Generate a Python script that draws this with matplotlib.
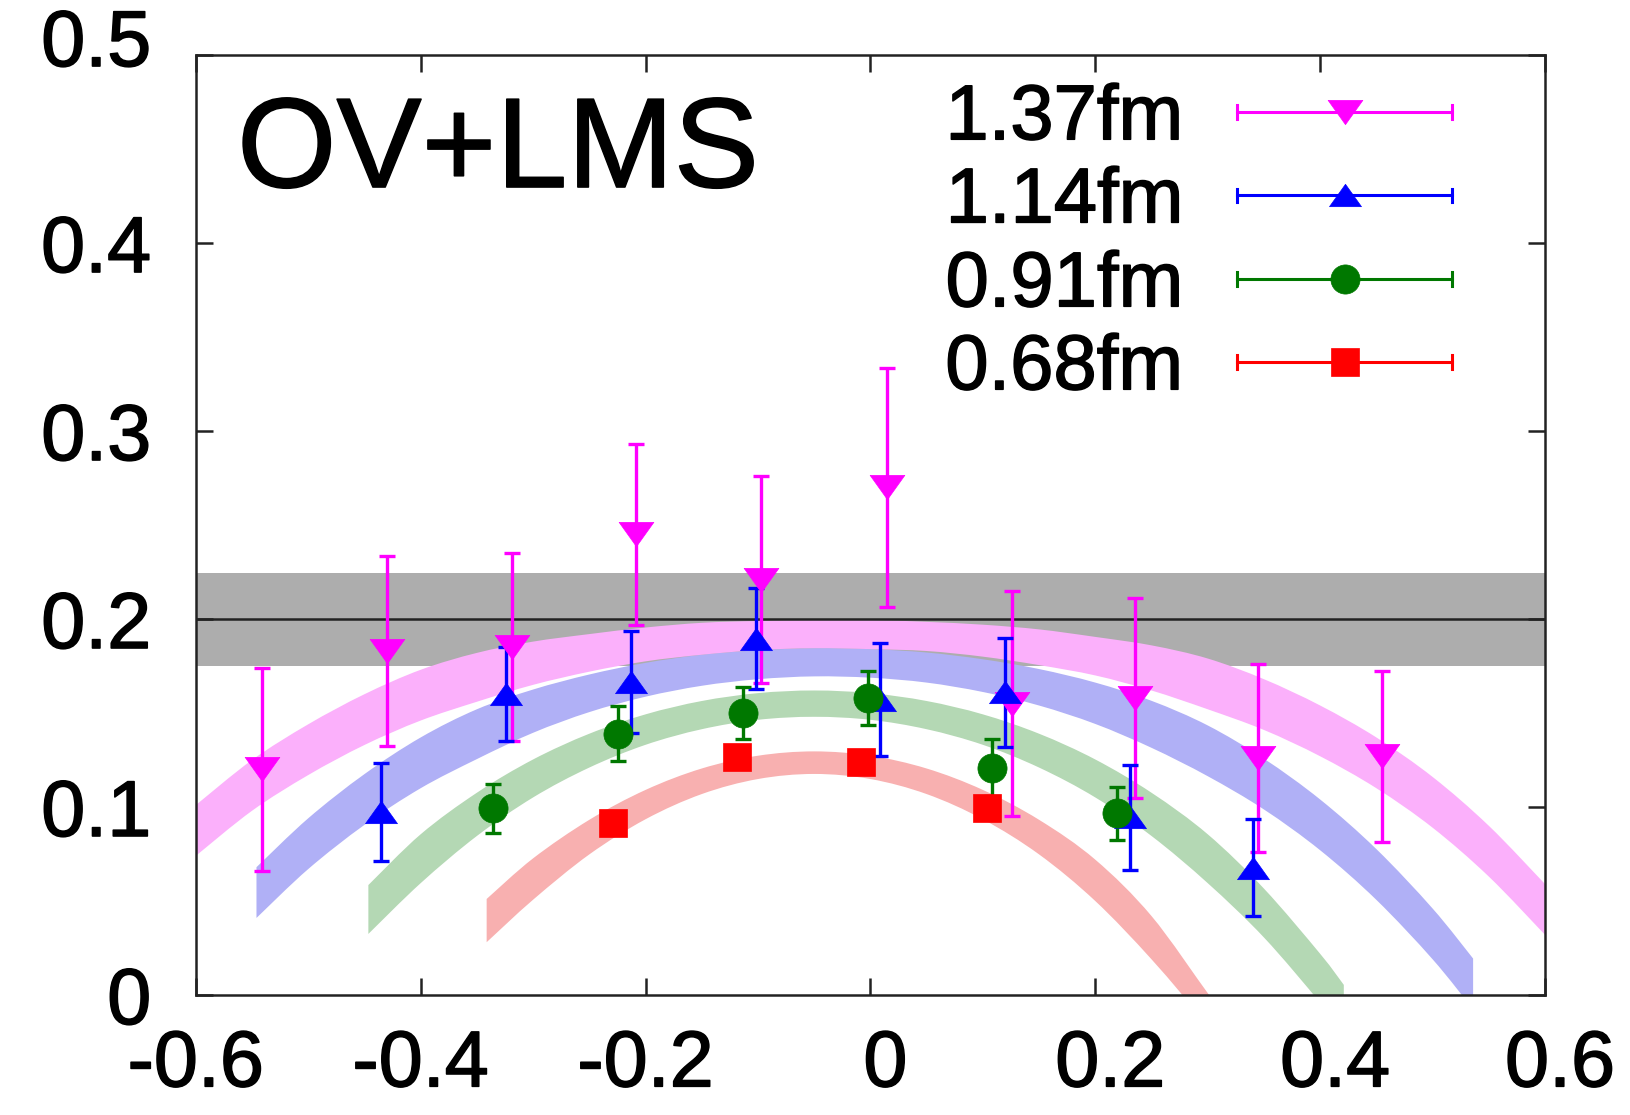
import matplotlib
matplotlib.use('Agg')
import matplotlib.pyplot as plt
import matplotlib.patheffects as pe
import matplotlib.transforms as mtransforms
import numpy as np
from matplotlib.path import Path
from matplotlib.patches import PathPatch

plt.rcParams['font.family'] = ['Liberation Sans', 'DejaVu Sans']
plt.rcParams['axes.unicode_minus'] = False

# lattice sizes, top to bottom in the key
labels = ['1.37fm', '1.14fm', '0.91fm', '0.68fm']

# data points: x, central value, error
x_137 = [-0.541, -0.430, -0.319, -0.2085, -0.097, 0.0145, 0.1256, 0.2353, 0.345, 0.4547]
y_137 = [0.120, 0.183, 0.185, 0.245, 0.221, 0.270, 0.155, 0.158, 0.126, 0.127]
e_137 = [0.054, 0.0505, 0.050, 0.048, 0.055, 0.0635, 0.060, 0.053, 0.050, 0.0456]

x_114 = [-0.4355, -0.324, -0.2132, -0.1017, 0.0085, 0.1197, 0.2309, 0.3405]
y_114 = [0.0973, 0.160, 0.1664, 0.1895, 0.157, 0.161, 0.0946, 0.0678]
e_114 = [0.026, 0.025, 0.027, 0.0268, 0.030, 0.029, 0.028, 0.026]

x_091 = [-0.3354, -0.2248, -0.113, -0.0019, 0.1079, 0.2196]
y_091 = [0.0993, 0.139, 0.150, 0.158, 0.121, 0.0966]
e_091 = [0.013, 0.0146, 0.014, 0.0144, 0.015, 0.014]

x_068 = [-0.2292, -0.1184, -0.0086, 0.104]
y_068 = [0.0913, 0.1268, 0.1238, 0.0993]
e_068 = [0.005, 0.005, 0.005, 0.005]

# fit bands: x, lower edge, upper edge
bx_137 = [-0.60, -0.55, -0.50, -0.45, -0.40, -0.35, -0.30, -0.25, -0.20, -0.15, -0.10, -0.05,
          0.00, 0.05, 0.10, 0.15, 0.20, 0.25, 0.30, 0.35, 0.40, 0.45, 0.50, 0.55, 0.60]
lo_137 = [0.074, 0.098, 0.117, 0.133, 0.146, 0.156, 0.165, 0.172, 0.1775, 0.181, 0.1835, 0.1845,
          0.184, 0.183, 0.180, 0.1755, 0.170, 0.162, 0.152, 0.141, 0.127, 0.110, 0.089, 0.063, 0.032]
hi_137 = [0.101, 0.125, 0.144, 0.160, 0.173, 0.182, 0.188, 0.192, 0.1955, 0.198, 0.199, 0.1995,
          0.1995, 0.1985, 0.197, 0.1945, 0.1905, 0.186, 0.179, 0.168, 0.154, 0.137, 0.116, 0.090, 0.059]

bx_114 = [-0.546, -0.50, -0.45, -0.40, -0.35, -0.30, -0.25, -0.20, -0.15, -0.10, -0.05,
          0.00, 0.05, 0.10, 0.15, 0.20, 0.25, 0.30, 0.35, 0.40, 0.45, 0.50, 0.536]
lo_114 = [0.041, 0.067, 0.0905, 0.110, 0.1255, 0.1395, 0.1505, 0.1587, 0.1645, 0.168, 0.1695,
          0.1688, 0.1662, 0.1612, 0.154, 0.1442, 0.1315, 0.1164, 0.0987, 0.077, 0.0506, 0.019, -0.0076]
hi_114 = [0.068, 0.094, 0.1175, 0.137, 0.152, 0.1625, 0.1705, 0.1767, 0.181, 0.1834, 0.1845,
          0.184, 0.1822, 0.1786, 0.1734, 0.1662, 0.1565, 0.1434, 0.1257, 0.104, 0.0776, 0.046, 0.0194]

bx_091 = [-0.4465, -0.40, -0.35, -0.30, -0.25, -0.20, -0.15, -0.10, -0.05,
          0.00, 0.05, 0.10, 0.15, 0.20, 0.25, 0.30, 0.35, 0.40, 0.421]
lo_091 = [0.0325, 0.0595, 0.0846, 0.1051, 0.121, 0.1331, 0.1414, 0.1464, 0.148,
          0.1464, 0.1414, 0.1331, 0.121, 0.1051, 0.0846, 0.0595, 0.0306, -0.0041, -0.0206]
hi_091 = [0.0585, 0.0855, 0.1076, 0.1253, 0.139, 0.1493, 0.1564, 0.1606, 0.162,
          0.1606, 0.1564, 0.1493, 0.139, 0.1253, 0.1076, 0.0855, 0.0566, 0.0219, 0.0054]

bx_068 = [-0.3413, -0.30, -0.25, -0.20, -0.15, -0.10, -0.05,
          0.00, 0.05, 0.10, 0.15, 0.20, 0.25, 0.30, 0.31]
lo_068 = [0.0281, 0.0507, 0.0748, 0.0935, 0.1069, 0.1149, 0.1176,
          0.1149, 0.1069, 0.0935, 0.0748, 0.0500, 0.019, -0.016, -0.024]
hi_068 = [0.0511, 0.0727, 0.0932, 0.1091, 0.1205, 0.1273, 0.1296,
          0.1273, 0.1205, 0.1091, 0.0932, 0.0720, 0.042, 0.001, -0.006]

# continuum reference value and its band
ref_val = 0.2
ref_lo, ref_hi = 0.175, 0.2245

xticks = [-0.6, -0.4, -0.2, 0, 0.2, 0.4, 0.6]
yticks = [0, 0.1, 0.2, 0.3, 0.4, 0.5]

pt_col = ['#ff00ff', '#0000ff', '#007800', '#ff0000']
band_col = ['#fbb0fb', '#b0b0f6', '#b4d8b4', '#f8b0b0']

tri_dn = Path([(-1, 0.7), (1, 0.7), (0, -0.7), (-1, 0.7)],
              [Path.MOVETO, Path.LINETO, Path.LINETO, Path.CLOSEPOLY])
tri_up = Path([(-1, -0.7), (1, -0.7), (0, 0.7), (-1, -0.7)],
              [Path.MOVETO, Path.LINETO, Path.LINETO, Path.CLOSEPOLY])
mk = [tri_dn, tri_up, 'o', 's']
ms = [25, 23, 21, 20]

heavy = [pe.withStroke(linewidth=1.1, foreground='black')]


def curve_through(xs, ys):
    # cubic pieces passing through every given edge point
    p = np.column_stack([xs, ys])
    n = len(p)
    verts = [p[0]]
    for i in range(n - 1):
        p0, p1 = p[max(i - 1, 0)], p[i]
        p2, p3 = p[i + 1], p[min(i + 2, n - 1)]
        verts += [p1 + (p2 - p0) / 6, p2 - (p3 - p1) / 6, p2]
    return verts


def band(ax, bx, lo, hi, color):
    top = curve_through(bx, hi)
    bot = curve_through(bx[::-1], lo[::-1])
    verts = top + bot + [top[0]]
    codes = ([Path.MOVETO] + [Path.CURVE4] * (len(top) - 1) + [Path.LINETO]
             + [Path.CURVE4] * (len(bot) - 1) + [Path.CLOSEPOLY])
    ax.add_patch(PathPatch(Path(verts, codes), fc=color, lw=0, zorder=2))


fig = plt.figure(figsize=(16.3, 11.15), dpi=100)
ax = fig.add_axes([0.1201, 0.1076, 0.8278, 0.843])
ax.set_xlim(-0.6, 0.6)
ax.set_ylim(0, 0.5)

ax.axhspan(ref_lo, ref_hi, color='#adadad', lw=0, zorder=1)

bands = [(bx_137, lo_137, hi_137), (bx_114, lo_114, hi_114),
         (bx_091, lo_091, hi_091), (bx_068, lo_068, hi_068)]
for i in [3, 2, 1, 0]:
    bx, lo, hi = bands[i]
    band(ax, bx, lo, hi, band_col[i])

ax.axhline(ref_val, color='#222222', lw=1.8, zorder=3)

series = [(x_137, y_137, e_137), (x_114, y_114, e_114),
          (x_091, y_091, e_091), (x_068, y_068, e_068)]
for i, (x, y, e) in enumerate(series):
    ax.errorbar(x, y, yerr=e, fmt='none', ecolor=pt_col[i], elinewidth=2.4,
                capsize=6, capthick=2.4, zorder=4)
    ax.plot(x, y, ls='none', marker=mk[i], ms=ms[i], color=pt_col[i],
            mec=pt_col[i], mew=0.5, zorder=5)

# key: text, horizontal error bar sample, marker
key_y = [0.9394, 0.851, 0.7617, 0.6734]
for i, lab in enumerate(labels):
    yy = key_y[i]
    ax.text(0.7317, yy - 0.029, lab, transform=ax.transAxes, ha='right',
            va='baseline', fontsize=56, path_effects=heavy)
    ax.plot([0.7717, 0.931], [yy, yy], transform=ax.transAxes,
            color=pt_col[i], lw=2.2, clip_on=False, zorder=6)
    for xe in (0.7717, 0.931):
        ax.plot([xe, xe], [yy - 0.007, yy + 0.007], transform=ax.transAxes,
                color=pt_col[i], lw=2.2, clip_on=False, zorder=6)
    ax.plot([0.8518], [yy], transform=ax.transAxes, ls='none', marker=mk[i],
            ms=ms[i], color=pt_col[i], mec=pt_col[i], mew=0.5, clip_on=False, zorder=7)

ax.text(0.0306, 0.8596, 'OV+LMS', transform=ax.transAxes, ha='left',
        va='baseline', fontsize=92, path_effects=heavy)

ax.set_xticks(xticks)
ax.set_xticklabels(['0' if v == 0 else '%.1f' % v for v in xticks])
ax.set_yticks(yticks)
ax.set_yticklabels(['0' if v == 0 else '%.1f' % v for v in yticks])
ax.tick_params(direction='in', length=12, width=1.8, labelsize=57,
               top=True, right=True, color='#222222')
ax.tick_params(axis='y', pad=32)
ax.tick_params(axis='x', pad=24)
for s in ax.spines.values():
    s.set_linewidth(1.8)
    s.set_color('#222222')
    s.set_zorder(8)

shift = mtransforms.ScaledTranslation(0.15, 0, fig.dpi_scale_trans)
for v, t in zip(xticks, ax.get_xticklabels()):
    t.set_path_effects(heavy)
    if v >= 0:
        t.set_transform(t.get_transform() + shift)
lift = mtransforms.ScaledTranslation(0, 0.18, fig.dpi_scale_trans)
for v, t in zip(yticks, ax.get_yticklabels()):
    t.set_path_effects(heavy)
    if v == 0.5:
        t.set_transform(t.get_transform() + lift)

plt.savefig('out.png', dpi=100)
